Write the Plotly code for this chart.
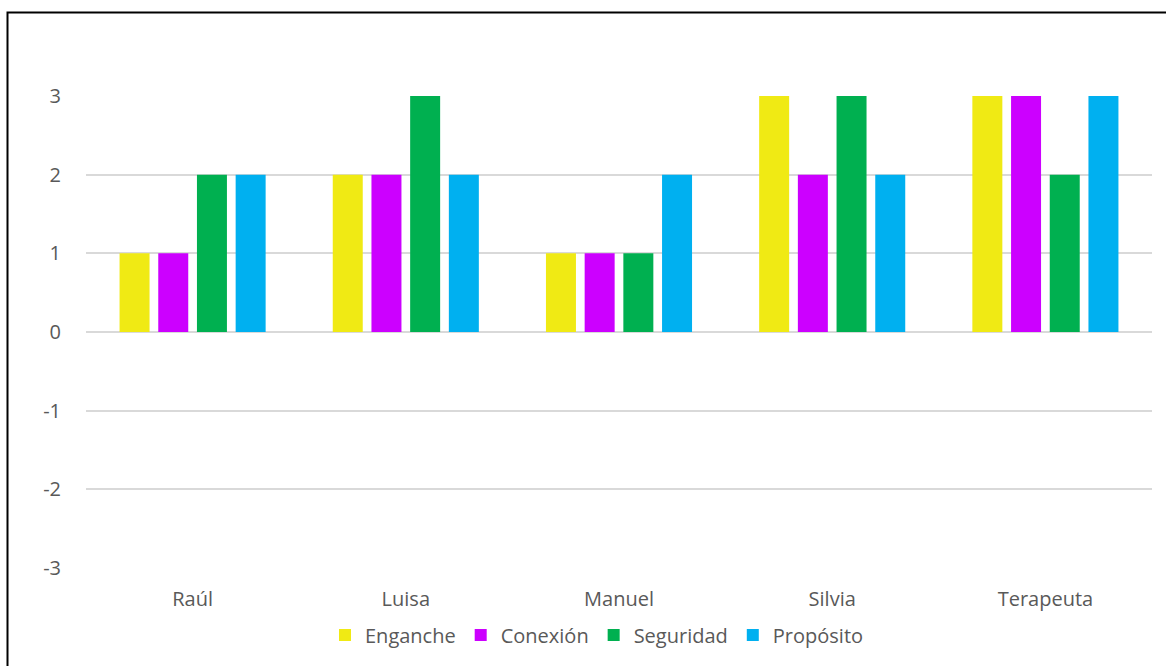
import plotly.graph_objects as go

# Participants and the score for each dimension
categories = ["Raúl", "Luisa", "Manuel", "Silvia", "Terapeuta"]
enganche = [1, 2, 1, 3, 3]
conexion = [1, 2, 1, 2, 3]
seguridad = [2, 3, 1, 3, 2]
proposito = [2, 2, 2, 2, 3]
y_ticks = [-3, -2, -1, 0, 1, 2, 3]
y_tick_labels = ["-3", "-2", "-1", "0", "1", "2", "3"]

series = [
    ("Enganche", enganche, "#F0EA14"),
    ("Conexión", conexion, "#CC00FF"),
    ("Seguridad", seguridad, "#00B050"),
    ("Propósito", proposito, "#00B0F0"),
]

font_family = "'Open Sans', sans-serif"
text_color = "#595959"
fs = 20

fig = go.Figure()
for name, values, color in series:
    fig.add_trace(go.Bar(x=categories, y=values, name=name,
                         marker=dict(color=color, line=dict(width=0))))

W, H = 1166, 666
ml, mr, mt, mb = 86, 14, 96, 98
pw = W - ml - mr
ph = H - mt - mb


def px_to_paper_x(px):
    return (px - ml) / pw


def px_to_paper_y(py):
    return (H - mb - py) / ph


fig.update_layout(
    width=W, height=H,
    margin=dict(l=ml, r=mr, t=mt, b=mb, pad=0),
    paper_bgcolor="white", plot_bgcolor="white",
    barmode="group", bargap=0.274, bargroupgap=0.225,
    font=dict(family=font_family, size=fs, color=text_color),
    showlegend=True,
    legend=dict(orientation="h", x=px_to_paper_x(597), xanchor="center",
                y=px_to_paper_y(635), yanchor="middle",
                font=dict(size=fs, color=text_color),
                itemwidth=30, traceorder="normal"),
    xaxis=dict(showgrid=False, showline=False, zeroline=False,
               ticks="", ticklabelstandoff=17,
               tickfont=dict(size=fs, color=text_color)),
    yaxis=dict(range=[-3, 3], tickvals=y_ticks, ticktext=y_tick_labels,
               showgrid=True, gridcolor="#D9D9D9", gridwidth=1.5,
               zeroline=True, zerolinecolor="#D9D9D9", zerolinewidth=1.5,
               showline=False, ticks="", ticklabelstandoff=24,
               tickfont=dict(size=fs, color=text_color)),
    shapes=[dict(type="rect", xref="paper", yref="paper",
                 x0=px_to_paper_x(7.5), x1=px_to_paper_x(1175),
                 y0=px_to_paper_y(680), y1=px_to_paper_y(12.5),
                 line=dict(color="black", width=2), layer="above")],
)

fig.write_html("out.html")
